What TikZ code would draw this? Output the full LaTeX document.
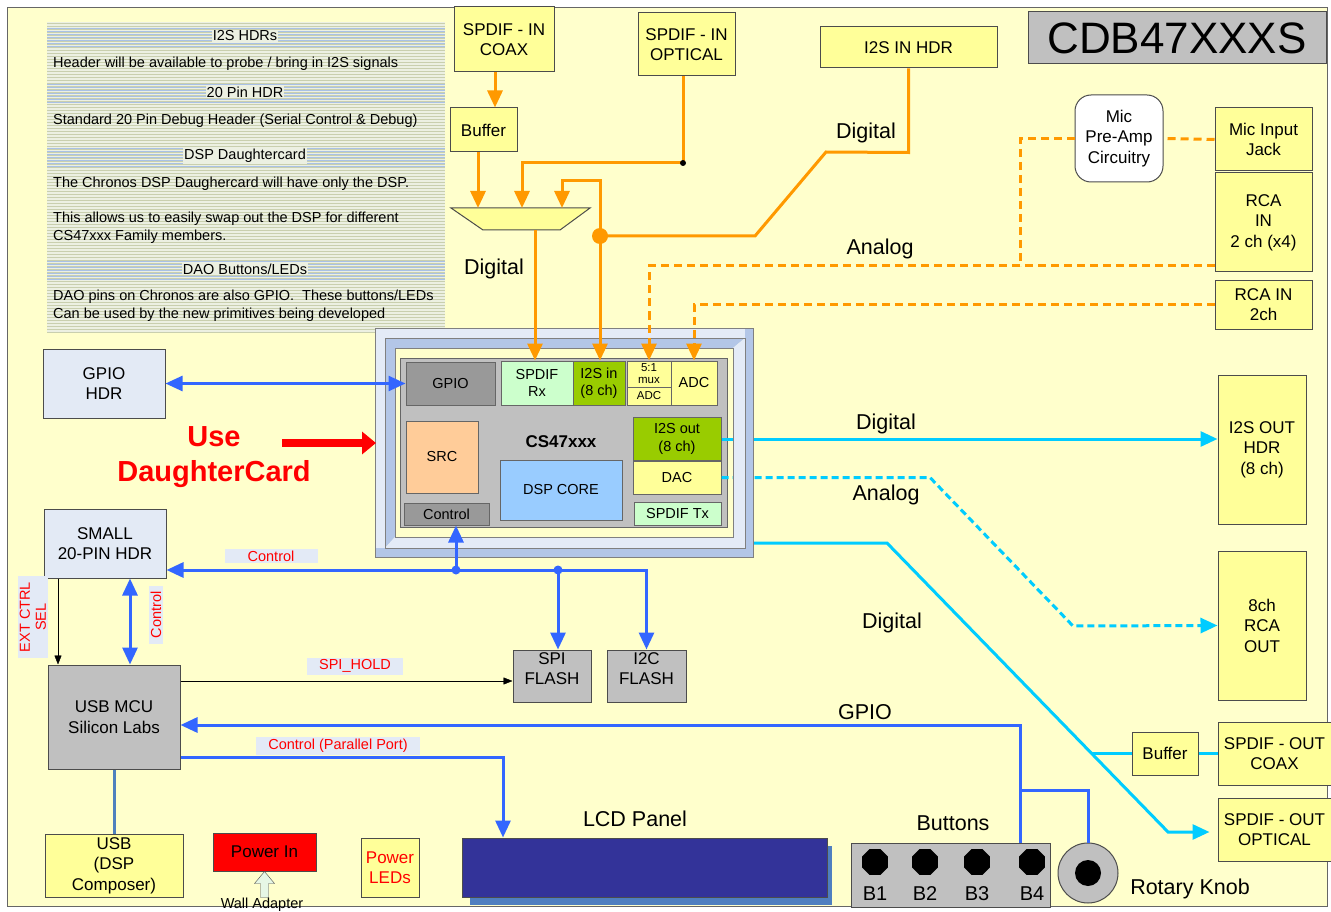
\documentclass[tikz,border=0pt]{standalone}
\usepackage{fontspec}
\setmainfont{Liberation Sans}
\usepackage{tikz}
\usetikzlibrary{arrows,arrows.meta,shapes.geometric,positioning}
\definecolor{bgyellow}{HTML}{FFFFCC}
\definecolor{boxyellow}{HTML}{FFFF99}
\definecolor{notesbg}{HTML}{ECF0E2}
\definecolor{notesline}{HTML}{C9CFAE}
\definecolor{bandline}{HTML}{A9C1E6}
\definecolor{sigorange}{HTML}{FF9900}
\definecolor{busblue}{HTML}{3366FF}
\definecolor{sigcyan}{HTML}{00CCFF}
\definecolor{usbsteel}{HTML}{4F81BD}
\definecolor{chipgray}{HTML}{C0C0C0}
\definecolor{blockgray}{HTML}{999999}
\definecolor{hdrblue}{HTML}{E3EAF5}
\definecolor{tagblue}{HTML}{E3EAF6}
\definecolor{framelight}{HTML}{E4EBF7}
\definecolor{framedark}{HTML}{B3C6E7}
\definecolor{palegreen}{HTML}{CCFFCC}
\definecolor{leafgreen}{HTML}{99CC00}
\definecolor{peach}{HTML}{FFCC99}
\definecolor{dspblue}{HTML}{99CCFF}
\definecolor{lcdblue}{HTML}{333399}
\definecolor{lcdshadow}{HTML}{4F7FC0}
\definecolor{wallgreen}{HTML}{E6F7E6}
\tikzstyle{block} = [rectangle, draw=black!70, line width=1pt, fill=boxyellow,
    align=center, inner sep=1pt, font=\fontsize{17}{20.5}\selectfont]
\tikzstyle{hdrblock} = [block, fill=hdrblue]
\tikzstyle{greyblock} = [block, fill=chipgray]
\tikzstyle{chipblock} = [rectangle, draw=black!60, line width=1pt, align=center,
    inner sep=1pt, font=\fontsize{14.5}{17.5}\selectfont]
\tikzstyle{notetext} = [anchor=west, align=left, inner sep=0pt, font=\fontsize{14.5}{18}\selectfont]
\tikzstyle{notehead} = [fill=notesbg, inner sep=1pt, font=\fontsize{14.5}{17}\selectfont]
\tikzstyle{sig} = [font=\fontsize{21.5}{25}\selectfont]
\tikzstyle{redtag} = [fill=tagblue, text=red, inner xsep=12pt, inner ysep=2pt,
    font=\fontsize{14.5}{16}\selectfont]
\tikzstyle{orangeline} = [draw=sigorange, line width=3pt]
\tikzstyle{orangedash} = [orangeline, dash pattern=on 8pt off 5pt]
\tikzstyle{blueline} = [draw=busblue, line width=3pt]
\tikzstyle{cyanline} = [draw=sigcyan, line width=3pt]
\tikzstyle{sighead} = [-{Triangle[length=17pt,width=15pt]}]
\tikzstyle{sigheads} = [{Triangle[length=17pt,width=15pt]}-{Triangle[length=17pt,width=15pt]}]
\tikzstyle{thinhead} = [-{Triangle[length=9pt,width=7pt]}]

\begin{document}
\begin{tikzpicture}[x=1pt,y=-1pt]
    \useasboundingbox (0,0) rectangle (1331,912);
    \draw[draw=black!60, fill=bgyellow] (7,7) rectangle (1327,906);

    % Notes panel
    \fill[notesbg] (47,22) rectangle (445,332);
    \foreach \yy in {23,26,...,332} \draw[notesline] (47,\yy) -- (445,\yy);
    \foreach \hy in {37,93,157,270} {
        \foreach \dy in {-9,-6,...,9} \draw[bandline] (47,\hy+\dy) -- (445,\hy+\dy);
    }
    \node [notehead] (nh1) at (245,36) {I2S HDRs};
    \node [notetext] (nt1) at (53,64) {Header will be available to probe / bring in I2S signals};
    \node [notehead] (nh2) at (245,92) {20 Pin HDR};
    \node [notetext] (nt2) at (53,121) {Standard 20 Pin Debug Header (Serial Control \& Debug)};
    \node [notehead] (nh3) at (245,156) {DSP Daughtercard};
    \node [notetext] (nt3) at (53,184) {The Chronos DSP Daughercard will have only the DSP.};
    \node [notetext] (nt4) at (53,228) {This allows us to easily swap out the DSP for different\\CS47xxx Family members.};
    \node [notehead] (nh4) at (245,269) {DAO Buttons/LEDs};
    \node [notetext] (nt5) at (53,306) {DAO pins on Chronos are also GPIO.\ \ These buttons/LEDs\\Can be used by the new primitives being developed};

    % Chip
    \draw[draw=black!60, fill=chipgray] (400,358) rectangle (727,527);
    \node [chipblock, fill=blockgray, minimum width=89pt, minimum height=43pt] (gpio) at (450.5,383.5) {GPIO};
    \node [chipblock, fill=palegreen, minimum width=72pt, minimum height=44pt] (spdifrx) at (537,383) {SPDIF\\Rx};
    \node [chipblock, fill=leafgreen, minimum width=52pt, minimum height=44pt] (i2sin) at (599,383) {I2S in\\(8 ch)};
    \node [chipblock, fill=boxyellow, minimum width=44pt, minimum height=26pt, font=\fontsize{11.5}{12}\selectfont] (mux51) at (649,374) {5:1\\mux};
    \node [chipblock, fill=boxyellow, minimum width=44pt, minimum height=18pt, font=\fontsize{11.5}{12}\selectfont] (muxadc) at (649,396) {ADC};
    \node [chipblock, fill=boxyellow, minimum width=46pt, minimum height=44pt] (adcin) at (694,383) {ADC};
    \node [chipblock, fill=peach, minimum width=72pt, minimum height=72pt] (src) at (442,457) {SRC};
    \node [font=\bfseries\fontsize{17}{20}\selectfont] (chipname) at (561,442) {CS47xxx};
    \node [chipblock, fill=dspblue, minimum width=122pt, minimum height=60pt] (dsp) at (561,490) {DSP CORE};
    \node [chipblock, fill=blockgray, minimum width=85pt, minimum height=22pt] (ctrlblk) at (446.5,514) {Control};
    \node [chipblock, fill=leafgreen, minimum width=88pt, minimum height=43pt] (i2sout) at (677,439) {I2S out\\(8 ch)};
    \node [chipblock, fill=boxyellow, minimum width=88pt, minimum height=33pt] (dac) at (677,477.5) {DAC};
    \node [chipblock, fill=palegreen, minimum width=87pt, minimum height=23pt] (spdiftx) at (677.5,513.5) {SPDIF Tx};

    % Place nodes
    \node [block, minimum width=100pt, minimum height=65pt] (coaxin) at (504,39.5) {SPDIF - IN\\COAX};
    \node [block, minimum width=67pt, minimum height=44pt] (buftop) at (483.5,130) {Buffer};
    \node [block, minimum width=97pt, minimum height=63pt] (optin) at (686.5,44.5) {SPDIF - IN\\OPTICAL};
    \node [block, minimum width=177pt, minimum height=41pt] (i2shdrin) at (908.5,47.5) {I2S IN HDR};
    \node [rectangle, draw=black!70, line width=1pt, fill=chipgray, minimum width=298pt, minimum height=52pt,
        font=\fontsize{44}{48}\selectfont] (title) at (1177,38) {CDB47XXXS};
    \node [block, fill=white, rounded corners=16pt, minimum width=88pt, minimum height=87pt] (preamp) at (1119,138.5) {Mic\\Pre-Amp\\Circuitry};
    \node [block, minimum width=97pt, minimum height=63pt] (micjack) at (1263.5,139.5) {Mic Input\\Jack};
    \node [block, minimum width=97pt, minimum height=99pt] (rcain) at (1263.5,222.5) {RCA\\IN\\2 ch (x4)};
    \node [block, minimum width=97pt, minimum height=49pt] (rcain2) at (1263.5,304.5) {RCA IN\\2ch};
    \node [hdrblock, minimum width=122pt, minimum height=69pt] (gpiohdr) at (104,383.5) {GPIO\\HDR};
    \node [hdrblock, minimum width=122pt, minimum height=69pt] (smallhdr) at (105,543.5) {SMALL\\20-PIN HDR};
    \node [greyblock, minimum width=132pt, minimum height=104pt] (usbmcu) at (114,717) {USB MCU\\Silicon Labs};
    \node [greyblock, minimum width=78pt, minimum height=52pt, text depth=15pt] (spiflash) at (552,676) {SPI\\FLASH};
    \node [greyblock, minimum width=79pt, minimum height=52pt, text depth=15pt] (i2cflash) at (646.5,676) {I2C\\FLASH};
    \node [block, minimum width=138pt, minimum height=63pt] (usbbox) at (114,865.5) {USB\\(DSP\\Composer)};
    \node [block, fill=red, minimum width=103pt, minimum height=38pt] (pwr) at (264.5,852) {Power In};
    \node [block, text=red, minimum width=58pt, minimum height=59pt] (pwrled) at (390,867.5) {Power\\LEDs};
    \fill[lcdshadow] (470,846) rectangle (832,905);
    \node [block, fill=lcdblue, minimum width=365pt, minimum height=59pt] (lcd) at (644.5,867.5) {};
    \node [block, fill=chipgray, minimum width=199pt, minimum height=64pt] (buttons) at (950.5,875) {};
    \foreach \bx/\bn in {875/B1, 925/B2, 977/B3, 1032/B4} {
        \node [regular polygon, regular polygon sides=8, fill=black, minimum size=28pt, inner sep=0pt] (btn\bn) at (\bx,862) {};
        \node [font=\fontsize{20}{22}\selectfont] at (\bx,894) {\bn};
    }
    \node [circle, draw=black!70, line width=1pt, fill=chipgray, minimum size=60pt] (knob) at (1088,873) {};
    \node [circle, fill=black, minimum size=26pt] (knobcap) at (knob) {};
    \node [block, minimum width=88pt, minimum height=149pt] (i2shdrout) at (1262,449.5) {I2S OUT\\HDR\\(8 ch)};
    \node [block, minimum width=88pt, minimum height=149pt] (rcaout) at (1262,625.5) {8ch\\RCA\\OUT};
    \node [block, minimum width=113pt, minimum height=63pt] (spdifcoax) at (1274.5,753.5) {SPDIF - OUT\\COAX};
    \node [block, minimum width=113pt, minimum height=63pt] (spdifopt) at (1274.5,829.5) {SPDIF - OUT\\OPTICAL};
    \node [block, minimum width=66pt, minimum height=43pt] (bufout) at (1165,753.5) {Buffer};
    \node [text=red, align=center, font=\bfseries\fontsize{29}{35}\selectfont] (usedc) at (214,457) {Use\\DaughterCard};

    % Join points
    \coordinate (muxinA) at (478,208);
    \coordinate (muxinB) at (522,208);
    \coordinate (muxinC) at (562,208);
    \coordinate (muxout) at (535,230);
    \coordinate (optjoin) at (683,163);
    \coordinate (i2sjoin) at (600,236);
    \coordinate (micjoin) at (1020,266);
    \coordinate (ctrljoinA) at (456,570);
    \coordinate (ctrljoinB) at (558,570);
    \coordinate (gpiojoin) at (1020,790);
    \coordinate (boardout) at (753,543);
    \coordinate (spdifsplit) at (1092,753.5);
    \coordinate (dcarrow) at (282,443);
    \coordinate (boardwest) at (376,443);

    % Outputs (under the board frame)
    \path [cyanline, sighead] (i2sout.east) -- (i2sout.east -| i2shdrout.west);
    \path [cyanline, dash pattern=on 7pt off 4pt, sighead] (dac.east) -- (930,477.5) -- (1073,626) -- (rcaout.west);
    \path [cyanline, sighead] (boardout) -- (887,543) -- (1168,832) -- ([xshift=-8pt,yshift=-2.5pt]spdifopt.west);
    \path [cyanline] (spdifsplit) -- (bufout.west);
    \path [cyanline] (bufout.east) -- (spdifcoax.west);

    % Board frame
    \path[fill=framelight, even odd rule] (375,328) rectangle (753,557) (385,338) rectangle (745,548);
    \fill[framedark] (745,328) rectangle (753,557);
    \fill[framedark] (375,548) rectangle (753,557);
    \fill[framedark] (385,338) -- (745,338) -- (733,348) -- (395,348) -- (395,537) -- (385,548) -- cycle;
    \fill[framelight] (745,338) -- (745,548) -- (385,548) -- (395,537) -- (733,537) -- (733,348) -- cycle;
    \draw[black!50] (375,328) rectangle (753,557) (385,338) rectangle (745,548) (395,348) rectangle (733,537);

    % Input mux
    \draw[draw=black!70, line width=1pt, fill=boxyellow] (451,208) -- (590,208) -- (560,230) -- (483,230) -- cycle;

    % Draw edges
    \path [orangeline, sighead] ([xshift=-9pt]coaxin.south) -- ([xshift=11.5pt]buftop.north);
    \path [orangeline, sighead] ([xshift=-5.5pt]buftop.south) -- (muxinA);
    \path [orangeline] ([xshift=-3.5pt]optin.south) -- (optjoin);
    \path [orangeline, sighead] (optjoin) -| (muxinB);
    \path [orangeline] (i2shdrin.south) -- ++(0,84) -- (826,152) -- (755,236) -- (i2sjoin);
    \path [orangeline, sighead] (i2sjoin) -- (600,181) -| (muxinC);
    \path [orangeline, sighead] (i2sjoin) -- (i2sjoin |- i2sin.north);
    \path [orangeline, sighead] (muxout) -- (muxout |- spdifrx.north);
    \fill[sigorange] (i2sjoin) circle (8pt);
    \fill[black] (optjoin) circle (3pt);
    \path [orangedash] (micjack.west) -- (preamp.east);
    \path [orangedash] (preamp.west) -| (micjoin);
    \path [orangedash, sighead] ([yshift=-43.5pt]rcain.west) -| (mux51.north);
    \path [orangedash, sighead] (rcain2.west) -| (adcin.north);

    \path [blueline, line width=2.5pt, sigheads] (gpiohdr.east) -- (gpio.west);
    \path [blueline, sigheads] ([yshift=-26.5pt]smallhdr.east) -| (i2cflash.north);
    \path [blueline, sighead] (ctrljoinA) -- (ctrljoinA |- ctrlblk.south);
    \path [blueline, sighead] (ctrljoinB) -- (ctrljoinB |- spiflash.north);
    \fill[busblue] (ctrljoinA) circle (4.5pt);
    \fill[busblue] (ctrljoinB) circle (4.5pt);
    \path [blueline, sigheads] ([xshift=25pt]smallhdr.south) -- ([xshift=16pt]usbmcu.north);
    \path [draw, thinhead] ([xshift=-47pt]smallhdr.south) -- ([xshift=-56pt]usbmcu.north);
    \path [draw, thinhead] ([yshift=36pt]usbmcu.east) -- ([yshift=-5pt]spiflash.west);
    \path [blueline, sighead] ([xshift=69.5pt]buttons.north) |- ([yshift=-8pt]usbmcu.east);
    \path [blueline] (gpiojoin) -| (knob.north);
    \path [blueline, sighead] ([yshift=-40pt]usbmcu.east) -| ([xshift=-141.5pt]lcd.north);
    \path [draw=usbsteel, line width=3pt] (usbmcu.south) -- (usbbox.north);
    \path [draw=red, line width=8pt, -{Triangle[length=14pt,width=22pt]}] (dcarrow) -- (boardwest);
    \draw [fill=wallgreen, draw=black!70] (pwr.south) -- ++(10,12) -- ++(-6,0) -- ++(0,14) -- ++(-8,0) -- ++(0,-14) -- ++(-6,0) -- cycle;

    % Labels
    \node [sig] at (494,269) {Digital};
    \node [sig] at (866,133) {Digital};
    \node [sig] at (880,249) {Analog};
    \node [sig] at (886,424) {Digital};
    \node [sig] at (886,495) {Analog};
    \node [sig] at (892,623) {Digital};
    \node [sig] at (865,712) {GPIO};
    \node [sig] at (635,819) {LCD Panel};
    \node [sig] at (953,823) {Buttons};
    \node [sig] at (1190,889) {Rotary Knob};
    \node [font=\fontsize{14.5}{16}\selectfont] (walllbl) at (262,905) {Wall Adapter};
    \node [redtag, minimum width=93pt] at (271,556) {Control};
    \node [redtag, rotate=90, inner xsep=6pt] at (156,615) {Control};
    \node [redtag, rotate=90, align=center, inner xsep=6pt] at (33,617) {EXT CTRL\\SEL};
    \node [redtag] at (355,666) {SPI\_HOLD};
    \node [redtag] at (338,746) {Control (Parallel Port)};
\end{tikzpicture}
\end{document}
